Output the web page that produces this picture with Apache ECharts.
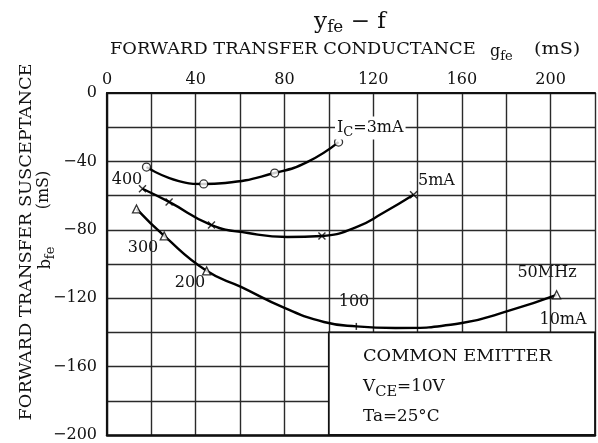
<!DOCTYPE html>
<html><head><meta charset="utf-8">
<script src="https://cdn.jsdelivr.net/npm/echarts@6/dist/echarts.min.js"></script>
<style>html,body{margin:0;padding:0;background:#fff}#c{width:598px;height:443px}</style>
</head><body><div id="c"></div>
<script>
// Axis ranges / ticks
const xMin = 0, xMax = 220, xStep = 20, xLabelStep = 40;
const yMin = -200, yMax = 0, yStep = 20, yLabelStep = 40;

// IC = 3mA curve (gfe, bfe)
const ic3Curve = [[17.8,-43.3],[32.4,-51.5],[43.6,-53.2],[53.3,-52.6],[75.6,-46.8],[90.2,-40.4],[104.4,-28.7]];
const ic3Marks = [[17.8,-43.3],[43.6,-53.2],[75.6,-46.8],[104.4,-28.7]];
// IC = 5mA
const ic5Curve = [[16,-56],[28,-63.7],[47.1,-77.2],[63.6,-81.9],[81.3,-84.2],[96.9,-83.6],[112.4,-78.4],[124.4,-70.2],[138.2,-59.5]];
const ic5Marks = [[16,-56],[28,-63.7],[47.1,-77.2],[96.9,-83.6],[138.2,-59.5]];
// IC = 10mA
const ic10Curve = [[13.3,-67.8],[25.8,-83.6],[44.9,-104],[60.4,-113.4],[80,-125.7],[97.8,-133.9],[112.4,-136.5],[130,-137.4],[160,-134.5],[182,-127],[202.7,-118]];
const ic10Marks = [[13.3,-67.8],[25.8,-83.6],[44.9,-104],[202.7,-118]];
const ic10Tick = [[112.4,-136.5]];
// Condition box corners
const boxFrom = [100,-140], boxTo = [220,-200];

const FONT = '"DejaVu Serif", "Liberation Serif", serif';
const chart = echarts.init(document.getElementById('c'), null, {renderer:'canvas'});

const minus = v => v < 0 ? '\u2212' + Math.abs(v) : String(v);
const SX = 1.11;

chart.setOption({
  backgroundColor:'#fff',
  animation:false,
  grid:{left:107, top:93, width:495, height:342},
  xAxis:[{
    type:'value', position:'top', min:xMin, max:xMax, interval:xStep,
    axisLine:{show:true, onZero:false, lineStyle:{color:'#111', width:2.2}},
    axisTick:{show:false},
    axisLabel:{fontFamily:FONT, fontSize:16, color:'#111', margin:5,
      formatter:v => (v % xLabelStep === 0 && v <= 200) ? String(v) : ''},
    splitLine:{show:true, lineStyle:{color:'#2a2a2a', width:1.4}}
  },{
    type:'value', position:'bottom', min:xMin, max:xMax,
    axisLine:{show:true, onZero:false, lineStyle:{color:'#111', width:2.5}},
    axisTick:{show:false}, axisLabel:{show:false}, splitLine:{show:false}
  }],
  yAxis:{
    type:'value', min:yMin, max:yMax, interval:yStep,
    axisLine:{show:true, onZero:false, lineStyle:{color:'#111', width:2.2}},
    axisTick:{show:false},
    axisLabel:{fontFamily:FONT, fontSize:16, color:'#111', margin:10,
      formatter:v => (v % yLabelStep === 0) ? minus(v) : ''},
    splitLine:{show:true, lineStyle:{color:'#2a2a2a', width:1.4}}
  },
  series:[
    {type:'line', data:ic3Curve, smooth:0.5, symbol:'none', lineStyle:{color:'#000', width:2.4}, z:3},
    {type:'scatter', data:ic3Marks, symbol:'circle', symbolSize:8, itemStyle:{color:'#fff', borderColor:'#000', borderWidth:1.3}, z:4},
    {type:'line', data:ic5Curve, smooth:0.5, symbol:'none', lineStyle:{color:'#000', width:2.4}, z:3},
    {type:'scatter', data:ic5Marks, symbol:'path://M0,0L10,10M10,0L0,10', symbolSize:7, itemStyle:{color:'none', borderColor:'#000', borderWidth:1.4}, z:4},
    {type:'line', data:ic10Curve, smooth:0.5, symbol:'none', lineStyle:{color:'#000', width:2.4}, z:3,
      markArea:{silent:true, itemStyle:{color:'#fff', borderColor:'#111', borderWidth:1.8},
        data:[[{coord:boxFrom},{coord:boxTo}]]}},
    {type:'scatter', data:ic10Marks, symbol:'triangle', symbolSize:8, itemStyle:{color:'#fff', borderColor:'#000', borderWidth:1.3}, z:4},
    {type:'scatter', data:ic10Tick, symbol:'rect', symbolSize:[1.5,7], itemStyle:{color:'#000'}, z:4}
  ],
  graphic:[
    {type:'text', x:350, y:22, scaleX:1.05, style:{text:'{m|y}{s|fe}{m| \u2212 f}', align:'center', verticalAlign:'middle', fill:'#111',
      rich:{m:{fontFamily:FONT, fontSize:22}, s:{fontFamily:FONT, fontSize:16, padding:[12,0,0,0]}}}},
    {type:'text', x:110, y:50, scaleX:SX, style:{text:'FORWARD TRANSFER CONDUCTANCE', fontFamily:FONT, fontSize:16, fill:'#111', verticalAlign:'middle'}},
    {type:'text', x:490, y:52, style:{text:'{m|g}{s|fe}', verticalAlign:'middle', fill:'#111',
      rich:{m:{fontFamily:FONT, fontSize:16}, s:{fontFamily:FONT, fontSize:13, padding:[10,0,0,0]}}}},
    {type:'text', x:534, y:50, scaleX:1.2, style:{text:'(mS)', fontFamily:FONT, fontSize:16, fill:'#111', verticalAlign:'middle'}},
    {type:'text', x:27, y:242, rotation:Math.PI/2, scaleX:SX, style:{text:'FORWARD TRANSFER SUSCEPTANCE', fontFamily:FONT, fontSize:16, fill:'#111', align:'center', verticalAlign:'middle'}},
    {type:'text', x:44, y:190, rotation:Math.PI/2, style:{text:'(mS)', fontFamily:FONT, fontSize:16, fill:'#111', align:'center', verticalAlign:'middle'}},
    {type:'text', x:46, y:258, rotation:Math.PI/2, style:{text:'{m|b}{s|fe}', align:'center', verticalAlign:'middle', fill:'#111',
      rich:{m:{fontFamily:FONT, fontSize:16}, s:{fontFamily:FONT, fontSize:13, padding:[10,0,0,0]}}}},
    {type:'text', x:335, y:128, z:10, style:{text:'{m|I}{s|C}{m|=3mA}', verticalAlign:'middle', fill:'#111', backgroundColor:'#fff', padding:[0,2,0,2],
      rich:{m:{fontFamily:FONT, fontSize:16}, s:{fontFamily:FONT, fontSize:13, padding:[10,0,0,0]}}}},
    {type:'text', x:418, y:181, style:{text:'5mA', fontFamily:FONT, fontSize:16, fill:'#111', verticalAlign:'middle'}},
    {type:'text', x:127, y:180, style:{text:'400', fontFamily:FONT, fontSize:16, fill:'#111', align:'center', verticalAlign:'middle'}},
    {type:'text', x:143, y:248, style:{text:'300', fontFamily:FONT, fontSize:16, fill:'#111', align:'center', verticalAlign:'middle', backgroundColor:'#fff'}},
    {type:'text', x:190, y:283, style:{text:'200', fontFamily:FONT, fontSize:16, fill:'#111', align:'center', verticalAlign:'middle', backgroundColor:'#fff'}},
    {type:'text', x:354, y:302, style:{text:'100', fontFamily:FONT, fontSize:16, fill:'#111', align:'center', verticalAlign:'middle', backgroundColor:'#fff', padding:[0,3,0,3]}},
    {type:'text', x:547, y:273, style:{text:'50MHz', fontFamily:FONT, fontSize:16, fill:'#111', align:'center', verticalAlign:'middle', backgroundColor:'#fff', padding:[0,3,0,3]}},
    {type:'text', x:563, y:320, style:{text:'10mA', fontFamily:FONT, fontSize:16, fill:'#111', align:'center', verticalAlign:'middle'}},
    {type:'text', x:363, y:357, z:10, scaleX:SX, style:{text:'COMMON EMITTER', fontFamily:FONT, fontSize:16, fill:'#111', verticalAlign:'middle'}},
    {type:'text', x:363, y:387, z:10, scaleX:1.05, style:{text:'{m|V}{s|CE}{m|=10V}', verticalAlign:'middle', fill:'#111',
      rich:{m:{fontFamily:FONT, fontSize:16}, s:{fontFamily:FONT, fontSize:14, padding:[10,0,0,0]}}}},
    {type:'text', x:363, y:417, z:10, scaleX:1.05, style:{text:'Ta=25\u00B0C', fontFamily:FONT, fontSize:16, fill:'#111', verticalAlign:'middle'}}
  ]
});
</script></body></html>
